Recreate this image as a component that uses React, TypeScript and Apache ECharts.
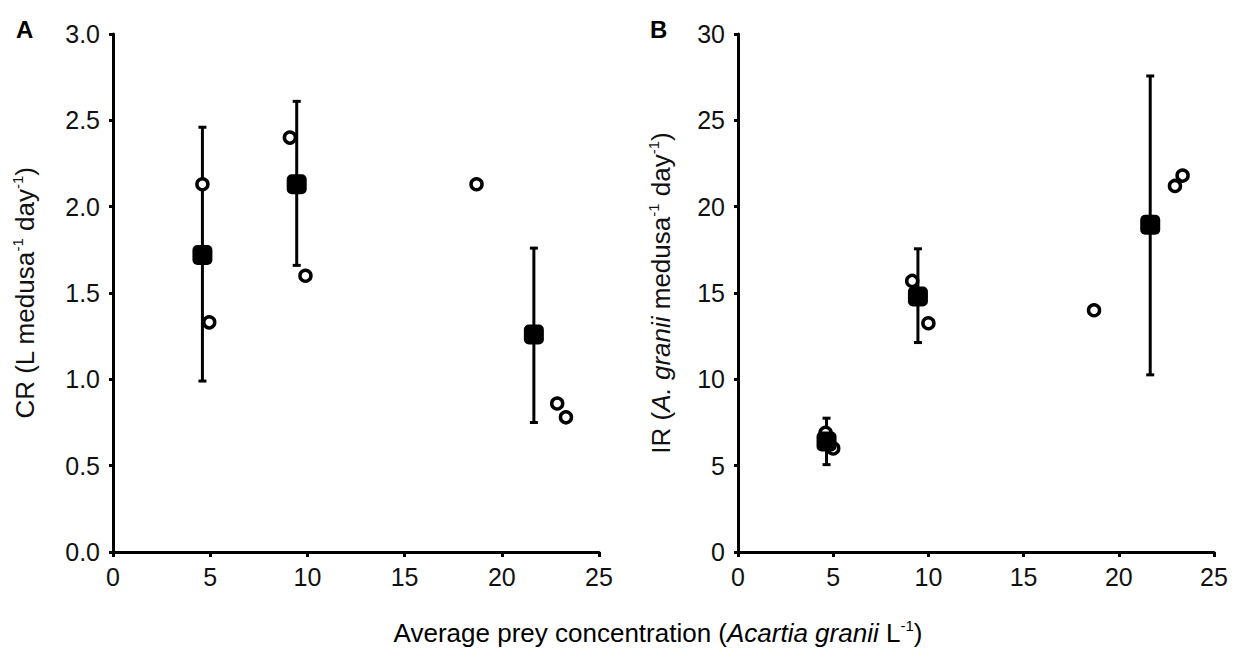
import React, { useEffect, useRef } from "react";
import * as echarts from "echarts";

// Panel A: clearance rate (CR)
const aMeanX = [4.6, 9.45, 21.65];
const aMeanY = [1.72, 2.13, 1.26];
const aErrLow = [0.99, 1.66, 0.75];
const aErrHigh = [2.46, 2.61, 1.76];
const aObsX = [4.6, 4.95, 9.1, 9.9, 18.7, 22.85, 23.3];
const aObsY = [2.13, 1.33, 2.4, 1.6, 2.13, 0.86, 0.78];

// Panel B: ingestion rate (IR)
const bMeanX = [4.65, 9.45, 21.65];
const bMeanY = [6.4, 14.8, 18.95];
const bErrLow = [5.06, 12.13, 10.26];
const bErrHigh = [7.75, 17.56, 27.57];
const bObsX = [4.6, 5.0, 9.15, 10.0, 18.7, 22.95, 23.35];
const bObsY = [6.9, 6.0, 15.7, 13.25, 14.0, 21.2, 21.8];

const xTicks = [0, 5, 10, 15, 20, 25];
const aYTicks = [0, 0.5, 1.0, 1.5, 2.0, 2.5, 3.0];
const bYTicks = [0, 5, 10, 15, 20, 25, 30];

const FONT = "Liberation Sans";
const FS = 25;
const TFS = 26;

const rich = {
  n: { fontFamily: FONT, fontSize: TFS, color: "#111", lineHeight: 30 },
  i: { fontFamily: FONT, fontSize: TFS, color: "#111", fontStyle: "italic", lineHeight: 30 },
  s: { fontFamily: FONT, fontSize: 15, color: "#111", lineHeight: 16, verticalAlign: "top" },
};

function errorBars(xs: number[], lo: number[], hi: number[], idx: number) {
  return {
    type: "custom",
    xAxisIndex: idx,
    yAxisIndex: idx,
    data: xs.map((x, k) => [x, lo[k], hi[k]]),
    encode: { x: 0, y: [1, 2] },
    z: 2,
    renderItem: (params: any, api: any) => {
      const x = api.value(0);
      const pLo = api.coord([x, api.value(1)]);
      const pHi = api.coord([x, api.value(2)]);
      const cap = 4;
      const st = { stroke: "#000", lineWidth: 3 };
      return {
        type: "group",
        children: [
          { type: "line", shape: { x1: pLo[0], y1: pLo[1], x2: pHi[0], y2: pHi[1] }, style: st },
          { type: "line", shape: { x1: pLo[0] - cap, y1: pLo[1], x2: pLo[0] + cap, y2: pLo[1] }, style: st },
          { type: "line", shape: { x1: pHi[0] - cap, y1: pHi[1], x2: pHi[0] + cap, y2: pHi[1] }, style: st },
        ],
      };
    },
  };
}

function obsSeries(xs: number[], ys: number[], idx: number) {
  return {
    type: "scatter",
    xAxisIndex: idx,
    yAxisIndex: idx,
    data: xs.map((x, k) => [x, ys[k]]),
    symbol: "circle",
    symbolSize: 11,
    itemStyle: { color: "#fff", borderColor: "#000", borderWidth: 3.5, opacity: 1 },
    z: 3,
  };
}

function meanSeries(xs: number[], ys: number[], idx: number) {
  return {
    type: "scatter",
    xAxisIndex: idx,
    yAxisIndex: idx,
    data: xs.map((x, k) => [x, ys[k]]),
    symbol: "roundRect",
    symbolSize: 20,
    itemStyle: { color: "#000", opacity: 1 },
    z: 4,
  };
}

function xAxisCfg(idx: number) {
  return {
    type: "value",
    gridIndex: idx,
    min: xTicks[0],
    max: xTicks[xTicks.length - 1],
    interval: xTicks[1] - xTicks[0],
    splitLine: { show: false },
    axisLine: { show: true, onZero: false, lineStyle: { color: "#000", width: 3 } },
    axisTick: { show: true, length: 5, lineStyle: { color: "#000", width: 3 } },
    axisLabel: { fontFamily: FONT, fontSize: FS, color: "#111", margin: 12 },
  };
}

function yAxisCfg(idx: number, ticks: number[], decimals: number, name: string) {
  return {
    type: "value",
    gridIndex: idx,
    min: ticks[0],
    max: ticks[ticks.length - 1],
    interval: ticks[1] - ticks[0],
    splitLine: { show: false },
    axisLine: { show: true, onZero: false, lineStyle: { color: "#000", width: 3 } },
    axisTick: { show: true, length: 4, lineStyle: { color: "#000", width: 3 } },
    axisLabel: {
      fontFamily: FONT,
      fontSize: FS,
      color: "#111",
      margin: 13,
      formatter: (v: number) => v.toFixed(decimals),
    },
    name,
    nameLocation: "middle",
    nameRotate: 90,
    nameGap: idx === 0 ? 73 : 62,
    nameTextStyle: { fontFamily: FONT, fontSize: TFS, color: "#111", rich },
  };
}

export default function App() {
  const ref = useRef<HTMLDivElement>(null);
  useEffect(() => {
    if (!ref.current) return;
    const chart = echarts.init(ref.current, null, { renderer: "svg" });
    chart.setOption({
      animation: false,
      backgroundColor: "#fff",
      grid: [
        { left: 113, top: 34, width: 486, height: 518, outerBoundsMode: "none" },
        { left: 738, top: 34, width: 476, height: 518, outerBoundsMode: "none" },
      ],
      xAxis: [xAxisCfg(0), xAxisCfg(1)],
      yAxis: [
        yAxisCfg(0, aYTicks, 1, "{n|CR (L medusa}{s|-1}{n| day}{s|-1}{n|)}"),
        yAxisCfg(1, bYTicks, 0, "{n|IR (}{i|A. granii}{n| medusa}{s|-1}{n| day}{s|-1}{n|)}"),
      ],
      graphic: [
        {
          type: "text",
          left: 16,
          top: 17,
          style: { text: "A", fontFamily: FONT, fontSize: 24, fontWeight: "bold", fill: "#000" },
        },
        {
          type: "text",
          left: 650,
          top: 17,
          style: { text: "B", fontFamily: FONT, fontSize: 24, fontWeight: "bold", fill: "#000" },
        },
        {
          type: "text",
          x: 658,
          y: 633,
          style: {
            text: "{n|Average prey concentration (}{i|Acartia granii}{n| L}{s|-1}{n|)}",
            align: "center",
            verticalAlign: "middle",
            rich,
          },
        },
      ],
      series: [
        errorBars(aMeanX, aErrLow, aErrHigh, 0),
        obsSeries(aObsX, aObsY, 0),
        meanSeries(aMeanX, aMeanY, 0),
        errorBars(bMeanX, bErrLow, bErrHigh, 1),
        obsSeries(bObsX, bObsY, 1),
        meanSeries(bMeanX, bMeanY, 1),
      ],
    });
    return () => chart.dispose();
  }, []);
  return (
    <div
      ref={ref}
      style={{ position: "fixed", left: 0, top: 0, width: 1235, height: 652, background: "#fff" }}
    />
  );
}
